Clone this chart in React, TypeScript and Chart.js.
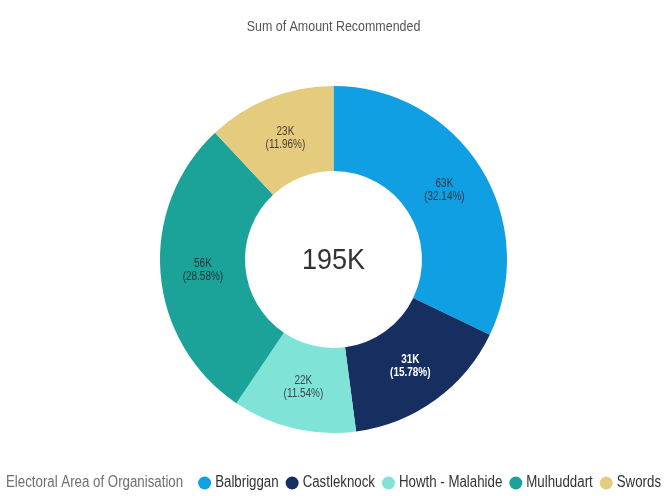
import React, { useEffect, useRef } from "react";
import { Chart, registerables } from "chart.js";

Chart.register(...registerables);

const categories = ["Balbriggan", "Castleknock", "Howth - Malahide", "Mulhuddart", "Swords"];
const amounts = [62.67, 30.77, 22.5, 55.73, 23.32];
const valueLabels = ["63K", "31K", "22K", "56K", "23K"];
const percentLabels = ["(32.14%)", "(15.78%)", "(11.54%)", "(28.58%)", "(11.96%)"];
const colors = ["#0f9fe2", "#172e60", "#80e3d8", "#1ba39a", "#e4cb7e"];
const labelColors = ["#2a3a4a", "#ffffff", "#3a4a4a", "#1f3433", "#4a4030"];
const totalLabel = "195K";
const titleText = "Sum of Amount Recommended";
const legendTitle = "Electoral Area of Organisation";

const FONT = "'Liberation Sans', Arial, sans-serif";
const SX = 0.83;

function narrowText(ctx: CanvasRenderingContext2D, text: string, x: number, y: number, sx = SX) {
  ctx.save();
  ctx.translate(x, y);
  ctx.scale(sx, 1);
  ctx.fillText(text, 0, 0);
  ctx.restore();
}

const overlayPlugin = {
  id: "overlay",
  afterDraw(chart: any) {
    const ctx = chart.ctx as CanvasRenderingContext2D;
    const meta = chart.getDatasetMeta(0);
    ctx.save();
    // title
    ctx.fillStyle = "#555";
    ctx.font = `15px ${FONT}`;
    ctx.textAlign = "center";
    ctx.textBaseline = "middle";
    narrowText(ctx, titleText, chart.width / 2, 27);

    // slice labels
    meta.data.forEach((arc: any, i: number) => {
      const p = arc.getProps(["x", "y", "startAngle", "endAngle", "innerRadius", "outerRadius"], true);
      const a = (p.startAngle + p.endAngle) / 2;
      const r = (p.innerRadius + p.outerRadius) / 2;
      const x = p.x + Math.cos(a) * r;
      const y = p.y + Math.sin(a) * r;
      ctx.fillStyle = labelColors[i];
      ctx.font = `${i === 1 ? "bold " : ""}12px ${FONT}`;
      narrowText(ctx, valueLabels[i], x, y - 6);
      narrowText(ctx, percentLabels[i], x, y + 7);
    });

    // center total
    const c = meta.data[0];
    ctx.fillStyle = "#333";
    ctx.font = `30px ${FONT}`;
    narrowText(ctx, totalLabel, c.x, c.y + 1, 0.9);

    // legend
    const ly = 483;
    ctx.textAlign = "left";
    ctx.font = `16px ${FONT}`;
    const gapTitle = 15;
    const markerR = 6.5;
    const markerGap = 4;
    const itemGap = 7;
    const tW = ctx.measureText(legendTitle).width * SX;
    let total = tW + gapTitle;
    const widths = categories.map((c) => ctx.measureText(c).width * SX);
    widths.forEach((w, i) => {
      total += markerR * 2 + markerGap + w + (i < widths.length - 1 ? itemGap : 0);
    });
    let x = (chart.width - total) / 2;
    ctx.fillStyle = "#707070";
    narrowText(ctx, legendTitle, x, ly);
    x += tW + gapTitle;
    categories.forEach((cat, i) => {
      ctx.beginPath();
      ctx.fillStyle = colors[i];
      ctx.arc(x + markerR, ly, markerR, 0, Math.PI * 2);
      ctx.fill();
      x += markerR * 2 + markerGap;
      ctx.fillStyle = "#333";
      narrowText(ctx, cat, x, ly);
      x += widths[i] + itemGap;
    });
    ctx.restore();
  },
};

export default function App() {
  const ref = useRef<HTMLCanvasElement>(null);
  useEffect(() => {
    const chart = new Chart(ref.current!, {
      type: "doughnut",
      data: {
        labels: categories,
        datasets: [
          {
            data: amounts,
            backgroundColor: colors,
            borderWidth: 0,
          },
        ],
      },
      options: {
        responsive: false,
        animation: false,
        cutout: "51%",
        layout: { padding: { top: 86, bottom: 63, left: 0, right: 0 } },
        plugins: {
          legend: { display: false },
          title: { display: false },
          tooltip: { enabled: false },
        },
      },
      plugins: [overlayPlugin],
    });
    return () => chart.destroy();
  }, []);
  return (
    <div style={{ position: "absolute", left: 0, top: 0, width: 667, height: 496, background: "#fff" }}>
      <canvas ref={ref} width={667} height={496} style={{ width: 667, height: 496 }} />
    </div>
  );
}
